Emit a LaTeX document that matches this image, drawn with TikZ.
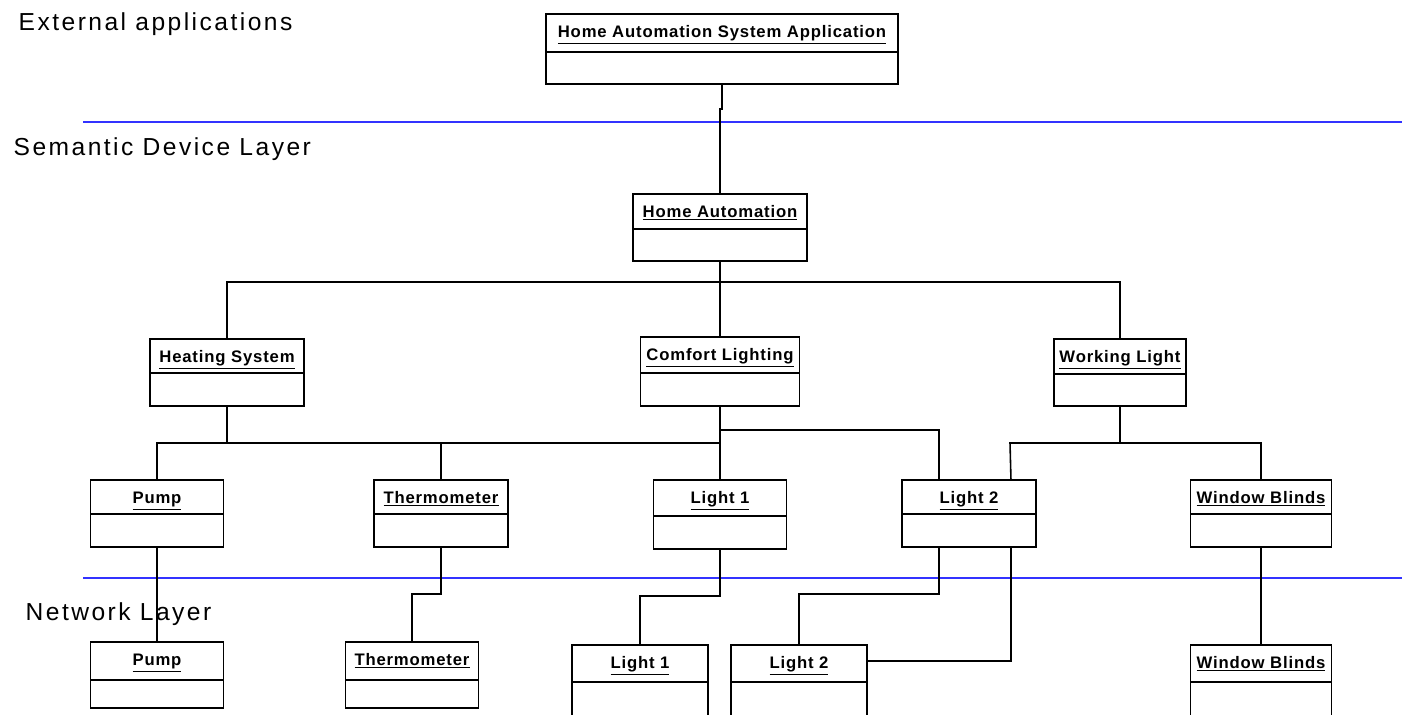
\documentclass[tikz,border=0pt]{standalone}
\usepackage{fontspec}
\setmainfont{Liberation Sans}
\newfontfamily\layerfont[LetterSpace=10]{Liberation Sans}
\newfontfamily\objfont[LetterSpace=5]{Liberation Sans}
\definecolor{layerblue}{RGB}{50,50,255}
\usetikzlibrary{calc}
\begin{document}
\begin{tikzpicture}[x=0.02cm, y=-0.02cm, thick,
    obj/.style n args={3}{draw, fill=white, line width=1.1pt, inner sep=0pt, font=\objfont\bfseries\fontsize{9.5}{11}\selectfont, minimum width=#1, text height=0.46cm, text depth=#2, path picture={\draw[line width=1.1pt] ([yshift=-#3]path picture bounding box.north west) -- ([yshift=-#3]path picture bounding box.north east);}},
    layer/.style={anchor=base west, inner sep=0pt, font=\layerfont\fontsize{14}{17}\selectfont},
    sep line/.style={draw=layerblue, line width=1.1pt},
    conn/.style={line width=0.9pt}]
                \useasboundingbox (0, 0) rectangle (1402, 714);

                \node[layer] at (18, 30) (ext) {External applications};
                \node[layer] at (13, 155) (sem) {Semantic Device Layer};
                \node[layer] at (25, 620) (net) {Network Layer};

                \node[obj={7.04cm}{0.94cm}{0.76cm}] at (722, 49) (app) {\underline{Home Automation System Application}};
                \node[obj={3.48cm}{0.88cm}{0.7cm}] at (720, 227.5) (ha) {\underline{Home Automation}};

                \node[obj={3.08cm}{0.88cm}{0.68cm}] at (227, 372.5) (heat) {\underline{Heating System}};
                \node[obj={3.18cm}{0.92cm}{0.72cm}] at (720, 371.5) (comfort) {\underline{Comfort Lighting}};
                \node[obj={2.64cm}{0.88cm}{0.7cm}] at (1120, 372.5) (work) {\underline{Working Light}};

                \node[obj={2.66cm}{0.88cm}{0.68cm}] at (157, 513.5) (pump) {\underline{Pump}};
                \node[obj={2.68cm}{0.88cm}{0.68cm}] at (441, 513.5) (thermo) {\underline{Thermometer}};
                \node[obj={2.66cm}{0.92cm}{0.72cm}] at (720, 514.5) (light1) {\underline{Light 1}};
                \node[obj={2.68cm}{0.88cm}{0.68cm}] at (969, 513.5) (light2) {\underline{Light 2}};
                \node[obj={2.82cm}{0.88cm}{0.68cm}] at (1261, 513.5) (blinds) {\underline{Window Blinds}};

                \node[obj={2.66cm}{0.86cm}{0.76cm}] at (157, 675) (pumpN) {\underline{Pump}};
                \node[obj={2.66cm}{0.86cm}{0.76cm}] at (412, 675) (thermoN) {\underline{Thermometer}};
                \node[obj={2.72cm}{1.04cm}{0.74cm}] at (640, 682.5) (light1N) {\underline{Light 1}};
                \node[obj={2.72cm}{1.04cm}{0.74cm}] at (799, 682.5) (light2N) {\underline{Light 2}};
                \node[obj={2.82cm}{1.04cm}{0.74cm}] at (1261, 682.5) (blindsN) {\underline{Window Blinds}};

                \coordinate (hub) at (720, 282);
                \coordinate (heatbus) at (720, 443);
                \coordinate (comfbus) at (720, 430);
                \coordinate (workbus) at (1010, 443);

            \draw[sep line] (83, 122) -- (1402, 122);
            \draw[sep line] (83, 578) -- (1402, 578);

            \draw[conn] (app.south) -- ++(0, 24) -| (ha.north);
            \draw[conn] (ha.south) -- (comfort.north);
            \draw[conn] (heat.north) |- (hub) -| (work.north);

            \draw[conn] (heat.south) -- (heat.south |- heatbus);
            \draw[conn] (pump.north) |- (heatbus);
            \draw[conn] (thermo.north) -- (thermo.north |- heatbus);
            \draw[conn] (comfort.south) -- (light1.north);
            \draw[conn] (comfbus) -| ($(light2.north west)+(38, 0)$);
            \draw[conn] (work.south) -- (work.south |- workbus);
            \draw[conn] ($(light2.north east)+(-26, 0)$) -- (workbus) -| (blinds.north);

            \draw[conn] (pump.south) -- (pumpN.north);
            \draw[conn] (thermo.south) -- ++(0, 46) -| (thermoN.north);
            \draw[conn] (light1.south) -- ++(0, 46) -| (light1N.north);
            \draw[conn] ($(light2.south west)+(38, 0)$) -- ++(0, 46) -| (light2N.north);
            \draw[conn] ($(light2.south east)+(-26, 0)$) |- ($(light2N.north east)+(0, 17)$);
            \draw[conn] (blinds.south) -- (blindsN.north);

            \end{tikzpicture}
\end{document}
